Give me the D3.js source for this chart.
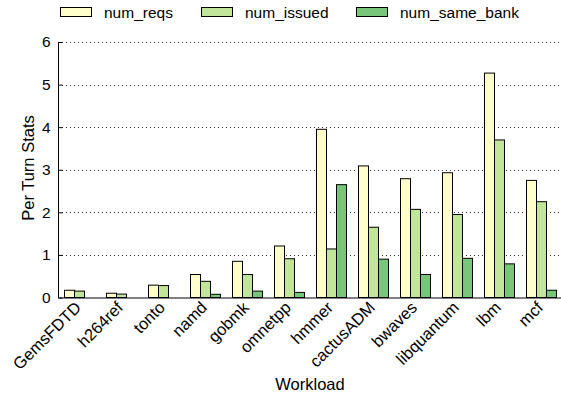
<!DOCTYPE html>
<html>
<head>
<meta charset="utf-8">
<script src="https://cdn.jsdelivr.net/npm/d3@7"></script>
<style>
  html, body { margin: 0; padding: 0; background: #fff; }
  svg text { font-family: "Liberation Sans", Arial, sans-serif; fill: #000; }
</style>
</head>
<body>
<svg id="chart" width="561" height="397"></svg>
<script>
// Workloads along the x axis
const workloads = ["GemsFDTD", "h264ref", "tonto", "namd", "gobmk", "omnetpp",
  "hmmer", "cactusADM", "bwaves", "libquantum", "lbm", "mcf"];

// Series names and per-workload values
const seriesNames = ["num_reqs", "num_issued", "num_same_bank"];
const numReqs     = [0.17, 0.10, 0.29, 0.54, 0.85, 1.21, 3.95, 3.09, 2.79, 2.93, 5.27, 2.75];
const numIssued   = [0.15, 0.08, 0.28, 0.38, 0.54, 0.91, 1.14, 1.65, 2.07, 1.95, 3.70, 2.25];
const numSameBank = [0.00, 0.00, 0.00, 0.075, 0.15, 0.12, 2.65, 0.90, 0.54, 0.92, 0.79, 0.17];
const seriesColors = ["#ffffcc", "#c2e699", "#78c679"];

// Y tick values
const yTicks = [0, 1, 2, 3, 4, 5, 6];

const seriesValues = [numReqs, numIssued, numSameBank];

const svg = d3.select("#chart");
const W = 561, H = 397;
const x0 = 58, x1 = 562;
const yTop = 42, yBot = 297.5;
const labelSize = 16.5;
const legendSize = 15.5;

const x = d3.scaleBand().domain(workloads).range([x0, x1]).paddingInner(0.2857).paddingOuter(0.1429);
const xs = d3.scaleBand().domain(seriesNames).range([0, x.bandwidth()]);
const y = d3.scaleLinear().domain([0, 6]).range([yBot, yTop]);

// dotted grid lines
svg.append("g")
  .selectAll("line")
  .data(yTicks.filter(t => t > 0))
  .join("line")
  .attr("x1", x0 + 4).attr("x2", W)
  .attr("y1", d => Math.round(y(d)) + 0.5).attr("y2", d => Math.round(y(d)) + 0.5)
  .attr("stroke", "#333").attr("stroke-width", 1)
  .attr("stroke-dasharray", "1,3");

// bars
const groups = svg.append("g")
  .selectAll("g")
  .data(workloads)
  .join("g")
  .attr("transform", d => `translate(${x(d)},0)`);

groups.selectAll("rect")
  .data((d, i) => seriesNames.map((s, k) => ({ s, k, v: seriesValues[k][i] })).filter(e => e.v > 0))
  .join("rect")
  .attr("x", d => xs(d.s) + 0.5)
  .attr("width", xs.bandwidth())
  .attr("y", d => y(d.v))
  .attr("height", d => yBot - y(d.v))
  .attr("fill", d => seriesColors[d.k])
  .attr("stroke", "#000")
  .attr("stroke-width", 1);

// y axis
const yAxis = svg.append("g")
  .attr("transform", `translate(${x0 + 0.5},0)`)
  .call(d3.axisLeft(y).tickValues(yTicks).tickSize(-4).tickPadding(8).tickFormat(d3.format("d")));
yAxis.select(".domain").attr("stroke", "#000").attr("d", `M0,${yTop}V${yBot}`);
yAxis.selectAll(".tick line").attr("stroke", "#000");
yAxis.selectAll(".tick text").attr("font-size", 15.5).attr("font-family", "Liberation Sans, Arial, sans-serif");

// x axis baseline
svg.append("line")
  .attr("x1", x0).attr("x2", W)
  .attr("y1", yBot + 0.5).attr("y2", yBot + 0.5)
  .attr("stroke", "#000").attr("stroke-width", 1.2);

// x tick labels, rotated
svg.append("g")
  .selectAll("text")
  .data(workloads)
  .join("text")
  .attr("transform", d => `translate(${x(d) + x.bandwidth() / 2 - 1},${yBot + 7}) rotate(-45)`)
  .attr("text-anchor", "end")
  .attr("font-size", labelSize)
  .attr("dy", "0.35em")
  .text(d => d);

// axis titles
svg.append("text")
  .attr("x", 310).attr("y", 390)
  .attr("text-anchor", "middle")
  .attr("font-size", labelSize)
  .text("Workload");

svg.append("text")
  .attr("transform", `translate(34,168) rotate(-90)`)
  .attr("text-anchor", "middle")
  .attr("font-size", labelSize)
  .text("Per Turn Stats");

// legend
const legendX = [60, 201, 356];
const legend = svg.append("g")
  .selectAll("g")
  .data(seriesNames)
  .join("g")
  .attr("transform", (d, i) => `translate(${legendX[i]},7)`);
legend.append("rect")
  .attr("x", 0.5).attr("y", 0.5)
  .attr("width", 31).attr("height", 9)
  .attr("fill", (d, i) => seriesColors[i])
  .attr("stroke", "#000");
legend.append("text")
  .attr("x", 44).attr("y", 11)
  .attr("font-size", legendSize)
  .text(d => d);
</script>
</body>
</html>
